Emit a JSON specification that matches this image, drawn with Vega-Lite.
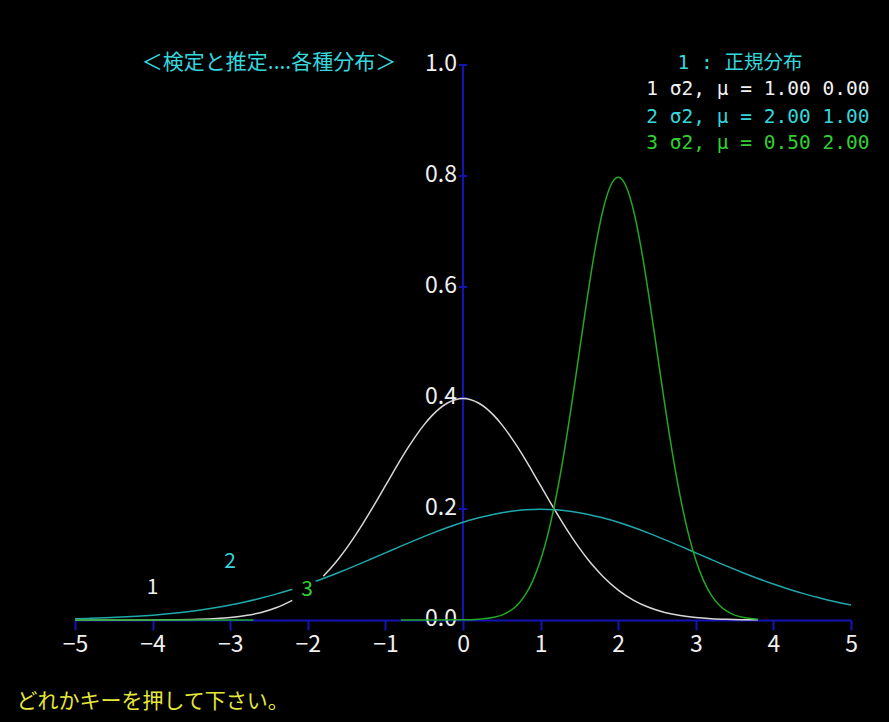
{
 "$schema": "https://vega.github.io/schema/vega-lite/v6.json",
 "width": 776, "height": 555,
 "autosize": {"type": "none"},
 "padding": {"left": 75, "top": 65, "right": 38, "bottom": 102},
 "background": "#000000",
 "config": {
  "view": {"stroke": null},
  "axisY": {"disable": true},
  "axisX": {"domainColor": "#1414b4", "domainWidth": 2, "tickColor": "#1414b4", "tickWidth": 2, "tickSize": 10, "tickCount": 10, "labelColor": "#f0f0f0", "labelFont": "Noto Sans CJK JP", "labelFontSize": 23, "labelPadding": 3, "grid": false, "labelFlush": false, "labelOverlap": false}
 },
 "datasets": {
  "curves": [
   {"s":"1","g":"1a","x":-5,"y":0.0000015},{"s":"1","g":"1a","x":-4.6,"y":0.0000101},{"s":"1","g":"1a","x":-4.2,"y":0.0000589},{"s":"1","g":"1a","x":-3.8,"y":0.000292},{"s":"1","g":"1a","x":-3.4,"y":0.001232},{"s":"1","g":"1a","x":-3.0,"y":0.004432},{"s":"1","g":"1a","x":-2.8,"y":0.007915},{"s":"1","g":"1a","x":-2.6,"y":0.013583},{"s":"1","g":"1a","x":-2.4,"y":0.022395},{"s":"1","g":"1a","x":-2.2,"y":0.035475},
   {"s":"1","g":"1b","x":-1.8,"y":0.07895},{"s":"1","g":"1b","x":-1.7,"y":0.094049},{"s":"1","g":"1b","x":-1.6,"y":0.110921},{"s":"1","g":"1b","x":-1.5,"y":0.129518},{"s":"1","g":"1b","x":-1.4,"y":0.149727},{"s":"1","g":"1b","x":-1.3,"y":0.171369},{"s":"1","g":"1b","x":-1.2,"y":0.194186},{"s":"1","g":"1b","x":-1.1,"y":0.217852},{"s":"1","g":"1b","x":-1.0,"y":0.241971},{"s":"1","g":"1b","x":-0.9,"y":0.266085},{"s":"1","g":"1b","x":-0.8,"y":0.289692},{"s":"1","g":"1b","x":-0.7,"y":0.312254},{"s":"1","g":"1b","x":-0.6,"y":0.333225},{"s":"1","g":"1b","x":-0.5,"y":0.352065},{"s":"1","g":"1b","x":-0.4,"y":0.36827},{"s":"1","g":"1b","x":-0.3,"y":0.381388},{"s":"1","g":"1b","x":-0.2,"y":0.391043},{"s":"1","g":"1b","x":-0.1,"y":0.396953},{"s":"1","g":"1b","x":0,"y":0.398942},{"s":"1","g":"1b","x":0.1,"y":0.396953},{"s":"1","g":"1b","x":0.2,"y":0.391043},{"s":"1","g":"1b","x":0.3,"y":0.381388},{"s":"1","g":"1b","x":0.4,"y":0.36827},{"s":"1","g":"1b","x":0.5,"y":0.352065},{"s":"1","g":"1b","x":0.6,"y":0.333225},{"s":"1","g":"1b","x":0.7,"y":0.312254},{"s":"1","g":"1b","x":0.8,"y":0.289692},{"s":"1","g":"1b","x":0.9,"y":0.266085},{"s":"1","g":"1b","x":1.0,"y":0.241971},{"s":"1","g":"1b","x":1.1,"y":0.217852},{"s":"1","g":"1b","x":1.2,"y":0.194186},{"s":"1","g":"1b","x":1.3,"y":0.171369},{"s":"1","g":"1b","x":1.4,"y":0.149727},{"s":"1","g":"1b","x":1.5,"y":0.129518},{"s":"1","g":"1b","x":1.6,"y":0.110921},{"s":"1","g":"1b","x":1.7,"y":0.094049},{"s":"1","g":"1b","x":1.8,"y":0.07895},{"s":"1","g":"1b","x":2.0,"y":0.053991},{"s":"1","g":"1b","x":2.2,"y":0.035475},{"s":"1","g":"1b","x":2.4,"y":0.022395},{"s":"1","g":"1b","x":2.6,"y":0.013583},{"s":"1","g":"1b","x":2.8,"y":0.007915},{"s":"1","g":"1b","x":3.0,"y":0.004432},{"s":"1","g":"1b","x":3.2,"y":0.002384},{"s":"1","g":"1b","x":3.4,"y":0.001232},{"s":"1","g":"1b","x":3.6,"y":0.000612},{"s":"1","g":"1b","x":3.8,"y":0.000292},
   {"s":"2","g":"2a","x":-5.0,"y":0.002216},{"s":"2","g":"2a","x":-4.8,"y":0.002976},{"s":"2","g":"2a","x":-4.6,"y":0.003958},{"s":"2","g":"2a","x":-4.4,"y":0.005211},{"s":"2","g":"2a","x":-4.2,"y":0.006791},{"s":"2","g":"2a","x":-4.0,"y":0.008764},{"s":"2","g":"2a","x":-3.8,"y":0.011197},{"s":"2","g":"2a","x":-3.6,"y":0.014164},{"s":"2","g":"2a","x":-3.4,"y":0.017737},{"s":"2","g":"2a","x":-3.2,"y":0.021992},{"s":"2","g":"2a","x":-3.0,"y":0.026995},{"s":"2","g":"2a","x":-2.8,"y":0.032808},{"s":"2","g":"2a","x":-2.6,"y":0.039475},{"s":"2","g":"2a","x":-2.4,"y":0.047025},{"s":"2","g":"2a","x":-2.2,"y":0.055461},
   {"s":"2","g":"2b","x":-1.9,"y":0.069716},{"s":"2","g":"2b","x":-1.8,"y":0.074864},{"s":"2","g":"2b","x":-1.6,"y":0.085685},{"s":"2","g":"2b","x":-1.4,"y":0.097093},{"s":"2","g":"2b","x":-1.2,"y":0.108926},{"s":"2","g":"2b","x":-1.0,"y":0.120985},{"s":"2","g":"2b","x":-0.8,"y":0.133043},{"s":"2","g":"2b","x":-0.6,"y":0.144846},{"s":"2","g":"2b","x":-0.4,"y":0.156127},{"s":"2","g":"2b","x":-0.2,"y":0.166612},{"s":"2","g":"2b","x":0.0,"y":0.176033},{"s":"2","g":"2b","x":0.2,"y":0.184135},{"s":"2","g":"2b","x":0.4,"y":0.190694},{"s":"2","g":"2b","x":0.6,"y":0.195521},{"s":"2","g":"2b","x":0.8,"y":0.198476},{"s":"2","g":"2b","x":1.0,"y":0.199471},{"s":"2","g":"2b","x":1.2,"y":0.198476},{"s":"2","g":"2b","x":1.4,"y":0.195521},{"s":"2","g":"2b","x":1.6,"y":0.190694},{"s":"2","g":"2b","x":1.8,"y":0.184135},{"s":"2","g":"2b","x":2.0,"y":0.176033},{"s":"2","g":"2b","x":2.2,"y":0.166612},{"s":"2","g":"2b","x":2.4,"y":0.156127},{"s":"2","g":"2b","x":2.6,"y":0.144846},{"s":"2","g":"2b","x":2.8,"y":0.133043},{"s":"2","g":"2b","x":3.0,"y":0.120985},{"s":"2","g":"2b","x":3.2,"y":0.108926},{"s":"2","g":"2b","x":3.4,"y":0.097093},{"s":"2","g":"2b","x":3.6,"y":0.085685},{"s":"2","g":"2b","x":3.8,"y":0.074864},{"s":"2","g":"2b","x":4.0,"y":0.064759},{"s":"2","g":"2b","x":4.2,"y":0.055461},{"s":"2","g":"2b","x":4.4,"y":0.047025},{"s":"2","g":"2b","x":4.6,"y":0.039475},{"s":"2","g":"2b","x":4.8,"y":0.032808},{"s":"2","g":"2b","x":5.0,"y":0.026995},
   {"s":"3","g":"3a","x":-5,"y":0},{"s":"3","g":"3a","x":-2.7,"y":0},
   {"s":"3","g":"3b","x":-0.8,"y":0},{"s":"3","g":"3b","x":0,"y":0.000268},{"s":"3","g":"3b","x":0.2,"y":0.001224},{"s":"3","g":"3b","x":0.4,"y":0.004768},{"s":"3","g":"3b","x":0.5,"y":0.008864},{"s":"3","g":"3b","x":0.6,"y":0.015831},{"s":"3","g":"3b","x":0.7,"y":0.027166},{"s":"3","g":"3b","x":0.8,"y":0.044789},{"s":"3","g":"3b","x":0.9,"y":0.070949},{"s":"3","g":"3b","x":1.0,"y":0.107982},{"s":"3","g":"3b","x":1.1,"y":0.1579},{"s":"3","g":"3b","x":1.2,"y":0.221842},{"s":"3","g":"3b","x":1.3,"y":0.299455},{"s":"3","g":"3b","x":1.4,"y":0.388372},{"s":"3","g":"3b","x":1.5,"y":0.483941},{"s":"3","g":"3b","x":1.6,"y":0.579383},{"s":"3","g":"3b","x":1.7,"y":0.666449},{"s":"3","g":"3b","x":1.8,"y":0.73654},{"s":"3","g":"3b","x":1.9,"y":0.782085},{"s":"3","g":"3b","x":1.95,"y":0.793905},{"s":"3","g":"3b","x":2.0,"y":0.797885},{"s":"3","g":"3b","x":2.05,"y":0.793905},{"s":"3","g":"3b","x":2.1,"y":0.782085},{"s":"3","g":"3b","x":2.2,"y":0.73654},{"s":"3","g":"3b","x":2.3,"y":0.666449},{"s":"3","g":"3b","x":2.4,"y":0.579383},{"s":"3","g":"3b","x":2.5,"y":0.483941},{"s":"3","g":"3b","x":2.6,"y":0.388372},{"s":"3","g":"3b","x":2.7,"y":0.299455},{"s":"3","g":"3b","x":2.8,"y":0.221842},{"s":"3","g":"3b","x":2.9,"y":0.1579},{"s":"3","g":"3b","x":3.0,"y":0.107982},{"s":"3","g":"3b","x":3.1,"y":0.070949},{"s":"3","g":"3b","x":3.2,"y":0.044789},{"s":"3","g":"3b","x":3.3,"y":0.027166},{"s":"3","g":"3b","x":3.4,"y":0.015831},{"s":"3","g":"3b","x":3.5,"y":0.008864},{"s":"3","g":"3b","x":3.6,"y":0.004768},{"s":"3","g":"3b","x":3.8,"y":0.001224}
  ],
  "yticks": [{"v":0},{"v":0.2},{"v":0.4},{"v":0.6},{"v":0.8},{"v":1.0}],
  "notes": [
   {"x":-2.5,"y":1.004,"t":"＜検定と推定....各種分布＞","k":"t"},
   {"x":-4.0,"y":-0.147,"t":"どれかキーを押して下さい。","k":"f"},
   {"x":-4.0,"y":0.058,"t":"1","k":"1"},
   {"x":-3.0,"y":0.105,"t":"2","k":"2"},
   {"x":-2.01,"y":0.054,"t":"3","k":"3"}
  ],
  "legend": [
   {"x":3.57,"y":1.004,"t":"1 : 正規分布","k":"t"},
   {"x":3.8,"y":0.957,"t":"1 σ2, μ = 1.00 0.00","k":"1"},
   {"x":3.8,"y":0.906,"t":"2 σ2, μ = 2.00 1.00","k":"2"},
   {"x":3.8,"y":0.859,"t":"3 σ2, μ = 0.50 2.00","k":"3"}
  ]
 },
 "layer": [
  {
   "data": {"values": [{}]},
   "mark": {"type": "rule", "color": "#1414b4", "strokeWidth": 2},
   "encoding": {
    "x": {"datum": 0, "type": "quantitative", "scale": {"domain": [-5, 5], "nice": false, "zero": false}, "title": null},
    "y": {"datum": 0, "type": "quantitative", "scale": {"domain": [0, 1], "nice": false}},
    "y2": {"datum": 1}
   }
  },
  {
   "data": {"name": "yticks"},
   "mark": {"type": "tick", "orient": "horizontal", "color": "#1414b4", "size": 8, "thickness": 2, "opacity": 1},
   "encoding": {
    "x": {"datum": 0, "type": "quantitative", "title": null},
    "y": {"field": "v", "type": "quantitative"}
   }
  },
  {
   "data": {"name": "yticks"},
   "mark": {"type": "text", "align": "right", "baseline": "middle", "dx": -6, "dy": -1, "font": "Noto Sans CJK JP", "fontSize": 23, "color": "#f0f0f0"},
   "encoding": {
    "x": {"datum": 0, "type": "quantitative", "title": null},
    "y": {"field": "v", "type": "quantitative"},
    "text": {"field": "v", "type": "quantitative", "format": ".1f"}
   }
  },
  {
   "data": {"name": "curves"},
   "mark": {"type": "line", "interpolate": "monotone", "strokeWidth": 1.5},
   "encoding": {
    "x": {"field": "x", "type": "quantitative", "title": null},
    "y": {"field": "y", "type": "quantitative"},
    "stroke": {"field": "s", "type": "nominal", "scale": {"domain": ["1", "2", "3"], "range": ["#d8d8d8", "#1fa8ac", "#22a822"]}, "legend": null},
    "detail": {"field": "g"}
   }
  },
  {
   "data": {"name": "notes"},
   "mark": {"type": "text", "align": "center", "baseline": "middle", "font": "Noto Sans CJK JP", "fontSize": 21},
   "encoding": {
    "x": {"field": "x", "type": "quantitative", "title": null},
    "y": {"field": "y", "type": "quantitative"},
    "text": {"field": "t"},
    "fill": {"field": "k", "type": "nominal", "scale": {"domain": ["1", "2", "3", "t", "f"], "range": ["#f2f2f2", "#36d6dc", "#30d030", "#36d6dc", "#e6e63c"]}, "legend": null}
   }
  },
  {
   "data": {"name": "legend"},
   "mark": {"type": "text", "align": "center", "baseline": "middle", "font": "DejaVu Sans Mono, Noto Sans CJK JP", "fontSize": 19.5},
   "encoding": {
    "x": {"field": "x", "type": "quantitative", "title": null},
    "y": {"field": "y", "type": "quantitative"},
    "text": {"field": "t"},
    "fill": {"field": "k", "type": "nominal", "legend": null}
   }
  }
 ]
}
